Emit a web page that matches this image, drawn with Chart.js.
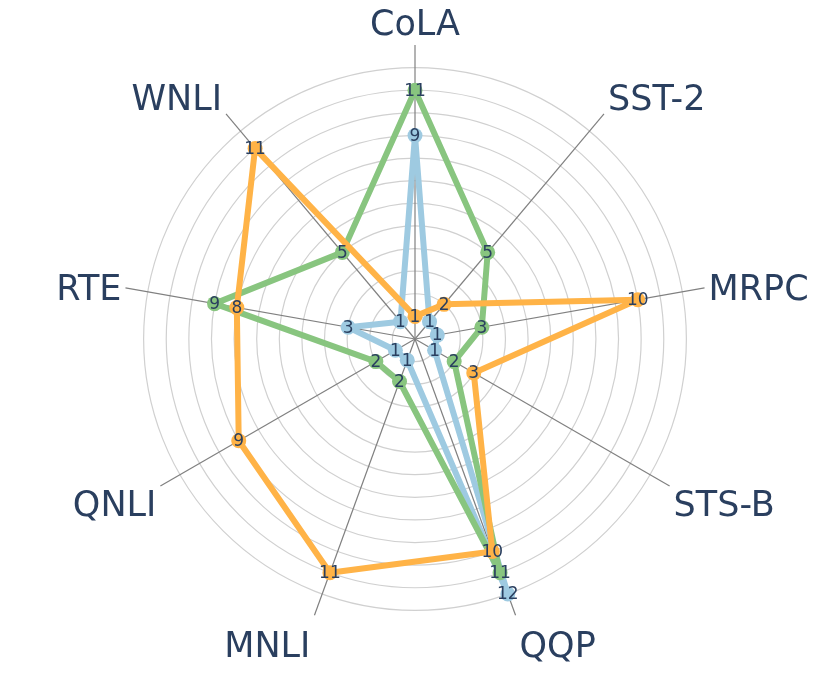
<!DOCTYPE html>
<html>
<head>
<meta charset="utf-8">
<script src="https://cdn.jsdelivr.net/npm/chart.js@4"></script>
<style>
  html, body { margin: 0; padding: 0; background: #fff; }
  #wrap { width: 831px; height: 676px; }
</style>
</head>
<body>
<div id="wrap"><canvas id="myChart"></canvas></div>
<script>
const categories = ['CoLA', 'SST-2', 'MRPC', 'STS-B', 'QQP', 'MNLI', 'QNLI', 'RTE', 'WNLI'];
const orangeValues = [1, 2, 10, 3, 10, 11, 9, 8, 11];
const greenValues = [11, 5, 3, 2, 11, 2, 2, 9, 5];
const blueValues = [9, 1, 1, 1, 12, 1, 1, 3, 1];
const gridMax = 12;
const axisMax = 13;

const textColor = '#2a3f5f';

// value labels on the points + category labels at the end of each spoke
const labelPlugin = {
  id: 'radarLabels',
  afterDatasetsDraw(chart) {
    const ctx = chart.ctx;
    const scale = chart.scales.r;
    ctx.save();
    ctx.fillStyle = textColor;

    ctx.font = '17px "DejaVu Sans"';
    ctx.textAlign = 'center';
    ctx.textBaseline = 'middle';
    for (let d = chart.data.datasets.length - 1; d >= 0; d--) {
      const ds = chart.data.datasets[d];
      chart.getDatasetMeta(d).data.forEach((pt, i) => {
        ctx.fillText(ds.data[i], pt.x, pt.y + 1);
      });
    }

    ctx.font = '35px "DejaVu Sans"';
    ctx.textBaseline = 'alphabetic';
    const end = scale.getDistanceFromCenterForValue(scale.max);
    categories.forEach((name, i) => {
      const a = scale.getIndexAngle(i);
      const p = scale.getPointPosition(i, end);
      const s = Math.sin(a), c = Math.cos(a);
      const side = s > 0.1 ? 1 : (s < -0.1 ? -1 : 0);
      ctx.textAlign = side > 0 ? 'left' : (side < 0 ? 'right' : 'center');
      ctx.fillText(name, p.x + 4 * side, p.y + 16.5 - 27 * c);
    });
    ctx.restore();
  }
};

function series(values, color) {
  return {
    data: values,
    borderColor: color,
    backgroundColor: color,
    pointBackgroundColor: color,
    pointBorderWidth: 0,
    pointRadius: 7.5,
    borderWidth: 6,
    fill: false
  };
}

const ctx = document.getElementById('myChart').getContext('2d');
const myChart = new Chart(ctx, {
  type: 'radar',
  data: {
    labels: categories,
    datasets: [
      series(orangeValues, '#ffb347'),
      series(greenValues, '#88c57f'),
      series(blueValues, '#9ecae1')
    ]
  },
  options: {
    responsive: true,
    maintainAspectRatio: false,
    animation: false,
    layout: { padding: { top: 45, bottom: 43, left: 121, right: 122 } },
    elements: { line: { tension: 0, borderJoinStyle: 'round' } },
    plugins: {
      legend: { display: false },
      tooltip: { enabled: false }
    },
    scales: {
      r: {
        min: 0,
        max: axisMax,
        ticks: { display: false, stepSize: 1 },
        grid: {
          circular: true,
          lineWidth: 1.2,
          color: (c) => (c.tick && c.tick.value <= gridMax) ? '#d0d0d0' : 'rgba(0,0,0,0)'
        },
        angleLines: { color: '#808080', lineWidth: 1.2 },
        pointLabels: { display: false }
      }
    }
  },
  plugins: [labelPlugin]
});
</script>
</body>
</html>
